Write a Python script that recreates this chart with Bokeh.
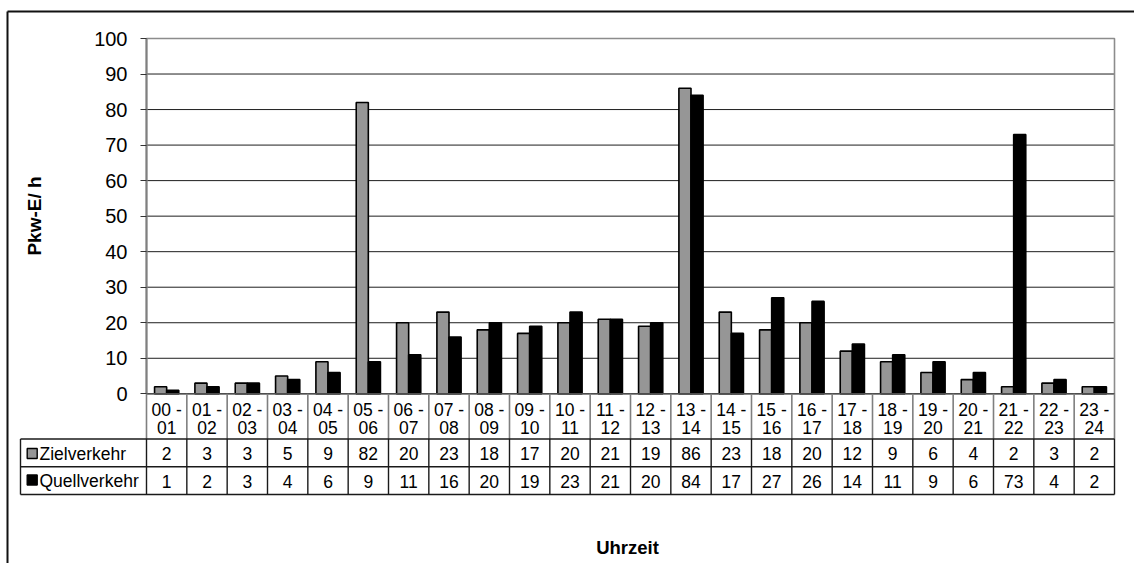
from math import pi

from bokeh.plotting import figure
from bokeh.models import Range1d, LinearAxis, FixedTicker, ColumnDataSource
from bokeh.core.properties import value
from bokeh.embed import file_html
from bokeh.resources import INLINE

# ---- data -------------------------------------------------------------
periods = ["00 - 01", "01 - 02", "02 - 03", "03 - 04", "04 - 05", "05 - 06",
           "06 - 07", "07 - 08", "08 - 09", "09 - 10", "10 - 11", "11 - 12",
           "12 - 13", "13 - 14", "14 - 15", "15 - 16", "16 - 17", "17 - 18",
           "18 - 19", "19 - 20", "20 - 21", "21 - 22", "22 - 23", "23 - 24"]
zielverkehr = [2, 3, 3, 5, 9, 82, 20, 23, 18, 17, 20, 21,
               19, 86, 23, 18, 20, 12, 9, 6, 4, 2, 3, 2]
quellverkehr = [1, 2, 3, 4, 6, 9, 11, 16, 20, 19, 23, 21,
                20, 84, 17, 27, 26, 14, 11, 9, 6, 73, 4, 2]
series_names = ["Zielverkehr", "Quellverkehr"]
y_ticks = [0, 10, 20, 30, 40, 50, 60, 70, 80, 90, 100]
y_title = "Pkw-E/ h"
x_title = "Uhrzeit"

# ---- page geometry (pixels) ---------------------------------------------
W, H = 1134, 563
PX_LEFT, PX_RIGHT = 146.0, 1114.0      # plot area, category 0 .. 24
PX_ZERO, PX_TOP = 393.3, 38.0          # value 0 .. 100
n = len(periods)
ppx = (PX_RIGHT - PX_LEFT) / n
ppy = (PX_ZERO - PX_TOP) / 100.0


def xd(px):
    return (px - PX_LEFT) / ppx


def yd(px):
    return (PX_ZERO - px) / ppy


FONT = value("Liberation Sans")
GREY = "#969696"
TABLE_FS = "17.5px"

p = figure(width=W, height=H, output_backend="svg", toolbar_location=None,
           x_range=Range1d(xd(0), xd(W)), y_range=Range1d(yd(H), yd(0)),
           x_axis_location=None, y_axis_location=None,
           min_border=0, title=None)
p.outline_line_color = None
p.background_fill_color = "white"
p.border_fill_color = "white"
p.xgrid.visible = False
p.ygrid.visible = False

# outer chart border (extends past the window on the right and bottom)
p.segment(x0=[xd(7), xd(7)], y0=[yd(11), yd(11)], x1=[xd(W + 5), xd(7)],
          y1=[yd(11), yd(H + 5)], line_color="#111111", line_width=2)

# horizontal grid lines
grid_vals = [v for v in y_ticks if 0 < v < y_ticks[-1]]
p.segment(x0=[0] * len(grid_vals), x1=[n] * len(grid_vals),
          y0=grid_vals, y1=grid_vals, line_color="#1e1e1e", line_width=1)

# plot area border
p.quad(left=[0], right=[n], bottom=[0], top=[y_ticks[-1]], fill_color=None,
       line_color="#8c8c8c", line_width=1.6)

# bars
idx = list(range(n))
src = ColumnDataSource(dict(
    xz=[i + 0.5 - 0.15 for i in idx],
    xq=[i + 0.5 + 0.15 for i in idx],
    ziel=zielverkehr, quell=quellverkehr))
p.vbar(x="xz", top="ziel", bottom=0, width=0.3, source=src,
       fill_color=GREY, line_color="black", line_width=1.6)
p.vbar(x="xq", top="quell", bottom=0, width=0.3, source=src,
       fill_color="black", line_color="black", line_width=1.6)

# value axis
yaxis = LinearAxis(fixed_location=0, bounds=(0, 100),
                   ticker=FixedTicker(ticks=y_ticks, minor_ticks=[]))
yaxis.axis_line_color = "#7f7f7f"
yaxis.axis_line_width = 2
yaxis.major_tick_line_color = "#333333"
yaxis.major_tick_line_width = 1
yaxis.major_tick_in = 0
yaxis.major_tick_out = 6
yaxis.minor_tick_line_color = None
yaxis.major_label_standoff = 13
yaxis.major_label_text_font = "Liberation Sans"
yaxis.major_label_text_font_size = "20px"
yaxis.major_label_text_color = "black"
p.add_layout(yaxis, "left")

# ---- data table under the plot -----------------------------------------
row_ziel_top = yd(438.5)
row_quell_top = yd(466.3)
table_bottom = yd(494.0)
table_left = xd(20.0)

# baseline / top of the category row
p.segment(x0=[0], x1=[n], y0=[0], y1=[0], line_color="#4d4d4d", line_width=1.6)
# separators in the category row
p.segment(x0=list(range(n + 1)), x1=list(range(n + 1)),
          y0=[0] * (n + 1), y1=[row_ziel_top] * (n + 1),
          line_color="#7f7f7f", line_width=1.6)
# separators in the value rows
p.segment(x0=list(range(n + 1)), x1=list(range(n + 1)),
          y0=[row_ziel_top] * (n + 1), y1=[table_bottom] * (n + 1),
          line_color="#1a1a1a", line_width=1.4)
p.segment(x0=[table_left], x1=[table_left], y0=[row_ziel_top], y1=[table_bottom],
          line_color="#1a1a1a", line_width=1.4)
p.segment(x0=[table_left] * 3, x1=[n] * 3,
          y0=[row_ziel_top, row_quell_top, table_bottom],
          y1=[row_ziel_top, row_quell_top, table_bottom],
          line_color="#1a1a1a", line_width=1.4)

# category labels on two lines
first = [s.split(" - ")[0] + " -" for s in periods]
second = [s.split(" - ")[1] for s in periods]
cx = [i + 0.5 for i in idx]
p.text(x=cx, y=[yd(409.5)] * n, text=first, text_align="center",
       text_baseline="middle", text_font=FONT, text_font_size=TABLE_FS,
       text_color="black")
p.text(x=cx, y=[yd(427.0)] * n, text=second, text_align="center",
       text_baseline="middle", text_font=FONT, text_font_size=TABLE_FS,
       text_color="black")

# value cells
p.text(x=cx, y=[yd(453.0)] * n, text=[str(v) for v in zielverkehr],
       text_align="center", text_baseline="middle", text_font=FONT,
       text_font_size=TABLE_FS, text_color="black")
p.text(x=cx, y=[yd(480.8)] * n, text=[str(v) for v in quellverkehr],
       text_align="center", text_baseline="middle", text_font=FONT,
       text_font_size=TABLE_FS, text_color="black")

# legend keys and series names
p.scatter(x=[xd(31.7), xd(31.7)], y=[yd(453.0), yd(479.5)], marker="square",
          size=10, fill_color=[GREY, "black"], line_color="black", line_width=1.4)
p.text(x=[xd(39.0), xd(39.0)], y=[yd(453.0), yd(480.8)], text=series_names,
       text_align="left", text_baseline="middle", text_font=FONT,
       text_font_size=TABLE_FS, text_color="black")

# axis titles
p.text(x=[xd(33.5)], y=[yd(215.5)], text=[y_title], angle=pi / 2,
       text_align="center", text_baseline="middle", text_font=FONT,
       text_font_size="19px", text_font_style="bold", text_color="black")
p.text(x=[xd(627.0)], y=[yd(546.5)], text=[x_title],
       text_align="center", text_baseline="middle", text_font=FONT,
       text_font_size="18.5px", text_font_style="bold", text_color="black")

open("out.html", "w").write(file_html(p, INLINE))
